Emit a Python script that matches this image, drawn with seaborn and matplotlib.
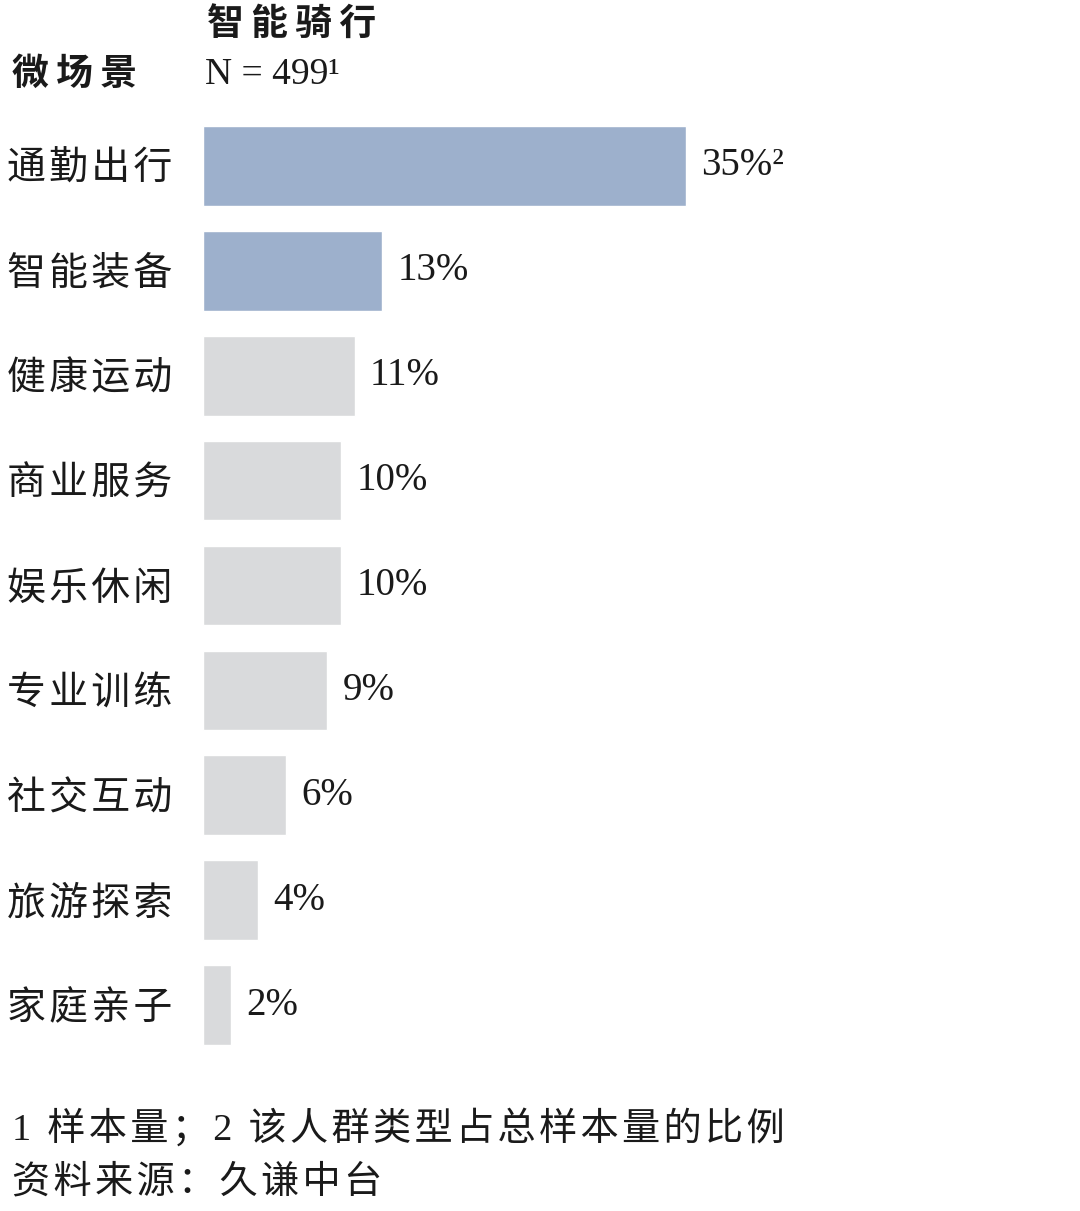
import pandas as pd
import seaborn as sns
import matplotlib
matplotlib.use('Agg')
import matplotlib.pyplot as plt

# data
scenes = ['通勤出行', '智能装备', '健康运动', '商业服务', '娱乐休闲', '专业训练', '社交互动', '旅游探索', '家庭亲子']
shares = [35, 13, 11, 10, 10, 9, 6, 4, 2]
value_labels = ['35%²', '13%', '11%', '10%', '10%', '9%', '6%', '4%', '2%']
highlighted = ['通勤出行', '智能装备']

title = '智能骑行'
axis_title = '微场景'
sample_note = 'N = 499¹'
footnote = '1 样本量；2 该人群类型占总样本量的比例'
source = '资料来源：久谦中台'

sns.set_theme(style='white')
CJK = ['Noto Sans CJK SC', 'DejaVu Sans']
MIXED = ['Liberation Serif', 'Noto Sans CJK SC', 'DejaVu Sans']
plt.rcParams['font.family'] = MIXED


def spaced(s, gap='\u200a'):
    # the reference sets its Chinese text with a little tracking
    return gap.join(s)


BLUE = '#9db0cc'
GREY = '#d9dadc'
INK = '#1a1a1a'
palette = {s: (BLUE if s in highlighted else GREY) for s in scenes}

df = pd.DataFrame({'scene': scenes, 'share': shares})

W, H = 1080, 1211
fig = plt.figure(figsize=(W / 100, H / 100), dpi=100)

# axes placed in pixel terms: x from 203px, 13.8px per percent
x_max = 63
ax_top, ax_bottom = 113.5, 1057.5
ax = fig.add_axes([203 / W, 1 - ax_bottom / H, x_max * 13.8 / W, (ax_bottom - ax_top) / H])

sns.barplot(data=df, x='share', y='scene', hue='scene', palette=palette,
            order=scenes, hue_order=scenes, legend=False, width=0.76,
            saturation=1, ax=ax)

ax.set_xlim(0, x_max)
ax.set_ylim(len(scenes) - 0.5, -0.5)
ax.set_xlabel('')
ax.set_ylabel('')
ax.set_xticks([])
sns.despine(ax=ax, left=True, bottom=True)
ax.tick_params(axis='y', length=0, pad=22)
ax.set_yticks(range(len(scenes)))
ax.set_yticklabels([spaced(s) for s in scenes], fontsize=28, color=INK, family=MIXED)

# value labels next to the drawn bars
for p in ax.patches:
    w = p.get_width()
    if w <= 0:
        continue
    yc = p.get_y() + p.get_height() / 2
    i = int(round(yc))
    ax.annotate(value_labels[i], (w, yc), xytext=(11, 0), textcoords='offset points',
                va='center', ha='left', fontsize=28, family=MIXED, color=INK)

fig.text(207 / W, 1 - 25 / H, spaced(title, '\u2009'), fontsize=26.5, fontweight='bold',
         va='center', ha='left', color=INK, family=MIXED)
fig.text(12 / W, 1 - 75 / H, spaced(axis_title, '\u2009'), fontsize=26.5, fontweight='bold',
         va='center', ha='left', color=INK, family=MIXED)
fig.text(205 / W, 1 - 75 / H, sample_note, fontsize=27, family=MIXED,
         va='center', ha='left', color=INK)
fig.text(12 / W, 1 - 1128 / H, spaced(footnote), fontsize=27.5, family=MIXED,
         va='center', ha='left', color=INK)
fig.text(12 / W, 1 - 1183 / H, spaced(source), fontsize=27.5, family=MIXED,
         va='center', ha='left', color=INK)

fig.savefig('out.png', dpi=100, facecolor='white')
plt.close(fig)
